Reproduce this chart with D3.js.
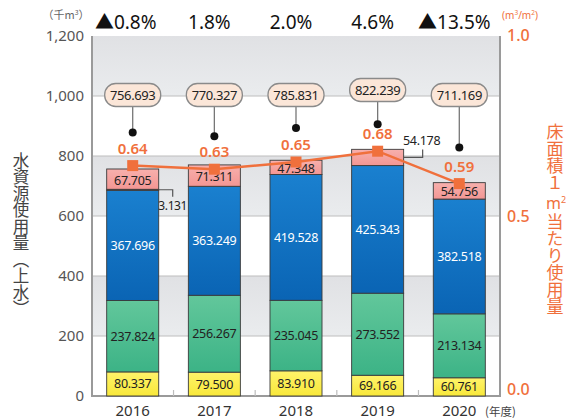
<!DOCTYPE html>
<html><head><meta charset="utf-8">
<script src="https://cdn.jsdelivr.net/npm/d3@7"></script>
<style>
body{margin:0;background:#fff;}
svg{display:block;font-family:"Noto Sans","Noto Sans CJK JP",sans-serif;}
</style></head>
<body><svg id="c" width="566" height="419"></svg>
<script>
const years = ["2016","2017","2018","2019","2020"];
const yellowVals = [80.337, 79.500, 83.910, 69.166, 60.761];
const greenVals  = [237.824, 256.267, 235.045, 273.552, 213.134];
const blueVals   = [367.696, 363.249, 419.528, 425.343, 382.518];
const brownVals  = [3.131, 0, 0, 0, 0];
const pinkVals   = [67.705, 71.311, 47.348, 54.178, 54.756];
const totals     = [756.693, 770.327, 785.831, 822.239, 711.169];
const perArea    = [0.64, 0.63, 0.65, 0.68, 0.59];
const changeLabels = ["▲0.8%", "1.8%", "2.0%", "4.6%", "▲13.5%"];
const leftTicks  = [0, 200, 400, 600, 800, 1000, 1200];
const rightTicks = [0.0, 0.5, 1.0];

const svg = d3.select("#c");
const L = 92, R = 500, T = 36, B = 396;
const x = d3.scaleBand().domain(years).range([L, R]).paddingInner(0.363).paddingOuter(0.18);
const yL = d3.scaleLinear().domain([0, 1200]).range([B, T]);
const yR = d3.scaleLinear().domain([0, 1]).range([B, T]);
const orange = "#f0703c";

const defs = svg.append("defs");
function grad(id, c1, c2) {
  const g = defs.append("linearGradient").attr("id", id).attr("x1", 0).attr("y1", 0).attr("x2", 0).attr("y2", 1);
  g.append("stop").attr("offset", "0%").attr("stop-color", c1);
  g.append("stop").attr("offset", "100%").attr("stop-color", c2);
}
grad("gBlue", "#1a80cf", "#0a64b4");
grad("gGreen", "#62c79b", "#3cb386");
grad("gYellow", "#fff36a", "#f8e83a");
grad("gPink", "#f7b0ad", "#f39693");
grad("gBand", "#e0e1e4", "#eaecee");

// background bands
const bands = [[1000,1200],[600,800],[200,400]];
svg.append("g").selectAll("rect").data(bands).join("rect")
  .attr("x", L).attr("width", R - L)
  .attr("y", d => yL(d[1])).attr("height", d => yL(d[0]) - yL(d[1]))
  .attr("fill", "url(#gBand)");

// gridlines
svg.append("g").selectAll("line").data(leftTicks.slice(1, -1)).join("line")
  .attr("x1", L).attr("x2", R).attr("y1", d => yL(d)).attr("y2", d => yL(d))
  .attr("stroke", "#bdbdbd").attr("stroke-width", 1.2);

// axes frame
svg.append("line").attr("x1", L).attr("x2", L).attr("y1", T).attr("y2", B).attr("stroke", "#9a9a9a").attr("stroke-width", 2);
svg.append("line").attr("x1", R).attr("x2", R).attr("y1", T).attr("y2", B).attr("stroke", "#9a9a9a").attr("stroke-width", 2);
svg.append("line").attr("x1", L - 1).attr("x2", R + 1).attr("y1", B).attr("y2", B).attr("stroke", "#9a9a9a").attr("stroke-width", 2);

// bottom tick marks between bands
const step = x.step();
svg.append("g").selectAll("line").data(years.slice(1)).join("line")
  .attr("x1", d => x(d) - (step - x.bandwidth()) / 2).attr("x2", d => x(d) - (step - x.bandwidth()) / 2)
  .attr("y1", B).attr("y2", B - 6).attr("stroke", "#bdbdbd").attr("stroke-width", 1.2);

// left ticks
svg.append("g").selectAll("text").data(leftTicks).join("text")
  .attr("x", 84).attr("y", d => yL(d)).attr("dy", "0.36em").attr("text-anchor", "end")
  .attr("font-size", 15).attr("fill", "#555").text(d => d3.format(",")(d));
svg.append("text").attr("x", 66).attr("y", 19).attr("text-anchor", "middle")
  .attr("font-size", 11).attr("fill", "#666").attr("font-family", "Noto Sans CJK JP")
  .html("（千m<tspan dy='-4' font-size='7'>3</tspan><tspan dy='4'>）</tspan>");

// right ticks
svg.append("g").selectAll("text").data(rightTicks).join("text")
  .attr("x", 507).attr("y", d => yR(d) - (d === 0 ? 7 : (d === 1 ? 1 : 0))).attr("dy", "0.36em").attr("text-anchor", "start")
  .attr("font-size", 16).attr("font-weight", 500).attr("fill", orange).text(d => d3.format(".1f")(d));
svg.append("text").attr("x", 520).attr("y", 19).attr("text-anchor", "middle")
  .attr("font-size", 10).attr("fill", orange)
  .html("(m<tspan dy='-4' font-size='6.5'>3</tspan><tspan dy='4'>/m</tspan><tspan dy='-4' font-size='6.5'>2</tspan><tspan dy='4'>)</tspan>");

// axis titles (vertical)
svg.append("text").attr("x", 21).attr("y", 152)
  .attr("font-size", 16.5).attr("fill", "#444").attr("font-family", "Noto Sans CJK JP")
  .style("writing-mode", "vertical-rl")
  .text("水資源使用量（上水）");
svg.append("text").attr("x", 555).attr("y", 123)
  .attr("font-size", 17).attr("fill", orange).attr("font-family", "Noto Sans CJK JP")
  .style("writing-mode", "vertical-rl").style("text-orientation", "upright")
  .text("床面積１");
svg.append("text").attr("x", 556).attr("y", 209).attr("text-anchor", "middle")
  .attr("font-size", 16).attr("fill", orange)
  .html("m<tspan dy='-6' font-size='9'>2</tspan>");
svg.append("text").attr("x", 555).attr("y", 213)
  .attr("font-size", 17).attr("fill", orange).attr("font-family", "Noto Sans CJK JP")
  .style("writing-mode", "vertical-rl").style("text-orientation", "upright")
  .text("当たり使用量");

// x labels
svg.append("g").selectAll("text").data(years).join("text")
  .attr("x", d => x(d) + x.bandwidth() / 2).attr("y", 416).attr("text-anchor", "middle")
  .attr("font-size", 15).attr("fill", "#333").text(d => d);
svg.append("text").attr("x", 485).attr("y", 416).attr("font-size", 11.5).attr("fill", "#444")
  .attr("font-family", "Noto Sans CJK JP").text("(年度)");

// stacked bars
const seriesDefs = [
  {vals: yellowVals, fill: "url(#gYellow)", tc: "#222"},
  {vals: greenVals, fill: "url(#gGreen)", tc: "#222"},
  {vals: blueVals, fill: "url(#gBlue)", tc: "#fff"},
  {vals: brownVals, fill: "#8a4a22", tc: null},
  {vals: pinkVals, fill: "url(#gPink)", tc: "#222"}
];
const segs = [];
years.forEach((yr, i) => {
  let base = 0;
  seriesDefs.forEach((s, k) => {
    const v = s.vals[i];
    segs.push({yr, i, k, y0: base, y1: base + v, v, fill: s.fill, tc: s.tc});
    base += v;
  });
});
const gBars = svg.append("g");
gBars.selectAll("rect").data(segs.filter(d => d.v > 0)).join("rect")
  .attr("x", d => x(d.yr)).attr("width", x.bandwidth())
  .attr("y", d => yL(d.y1)).attr("height", d => yL(d.y0) - yL(d.y1))
  .attr("fill", d => d.fill).attr("stroke", "#3a3a3a").attr("stroke-width", 0.9);

const inLabels = segs.filter(d => d.v > 0 && d.tc && !(d.i === 3 && d.k === 4));
gBars.selectAll("text").data(inLabels).join("text")
  .attr("x", d => x(d.yr) + x.bandwidth() / 2)
  .attr("y", d => (yL(d.y0) + yL(d.y1)) / 2 + (d.k === 4 ? 1 : 0)).attr("dy", "0.36em")
  .attr("text-anchor", "middle").attr("font-size", 12.5).attr("letter-spacing", -0.3)
  .attr("fill", d => d.tc).text(d => d3.format(".3f")(d.v));

// outside labels: brown 2016 and pink 2019
const bw = x.bandwidth();
{
  const d = segs.find(s => s.i === 0 && s.k === 3);
  const ym = yL((d.y0 + d.y1) / 2);
  const xr = x(d.yr) + bw;
  svg.append("path").attr("d", `M${xr},${ym}H${xr + 14}V${ym + 7}`).attr("fill", "none").attr("stroke", "#555").attr("stroke-width", 1.2);
  svg.append("text").attr("x", xr + 14).attr("y", ym + 20).attr("text-anchor", "middle")
    .attr("font-size", 12).attr("letter-spacing", -0.4).attr("fill", "#222").text(d3.format(".3f")(d.v));
}
{
  const d = segs.find(s => s.i === 3 && s.k === 4);
  const ym = yL((d.y0 + d.y1) / 2);
  const xr = x(d.yr) + bw;
  svg.append("path").attr("d", `M${xr},${ym}H${xr + 19}V${ym - 8}`).attr("fill", "none").attr("stroke", "#555").attr("stroke-width", 1.2);
  svg.append("text").attr("x", xr + 18).attr("y", ym - 12).attr("text-anchor", "middle")
    .attr("font-size", 12.5).attr("letter-spacing", -0.3).attr("fill", "#222").text(d3.format(".3f")(d.v));
}

// per-area line
const cx = d => x(d) + bw / 2;
const pts = years.map((yr, i) => ({yr, v: perArea[i]}));
svg.append("path").datum(pts)
  .attr("d", d3.line().x(d => cx(d.yr)).y(d => yR(d.v)))
  .attr("fill", "none").attr("stroke", orange).attr("stroke-width", 2.5);
svg.append("g").selectAll("rect").data(pts).join("rect")
  .attr("x", d => cx(d.yr) - 5.5).attr("y", d => yR(d.v) - 5.5).attr("width", 11).attr("height", 11)
  .attr("fill", orange);
svg.append("g").selectAll("text").data(pts).join("text")
  .attr("x", d => cx(d.yr)).attr("y", d => yR(d.v) - 12).attr("text-anchor", "middle")
  .attr("font-size", 15).attr("font-weight", 600).attr("fill", orange).text(d => d3.format(".2f")(d.v));

// total callouts
const bubbleY = [95, 95, 95, 90, 95];
const dotOff = [33, 33, 34, 27, 36];
const gC = svg.append("g");
years.forEach((yr, i) => {
  const c = cx(yr), by = bubbleY[i], dy = yR(perArea[i]) - dotOff[i];
  gC.append("line").attr("x1", c).attr("x2", c).attr("y1", by).attr("y2", dy).attr("stroke", "#777").attr("stroke-width", 1.3);
  gC.append("circle").attr("cx", c).attr("cy", dy).attr("r", 4).attr("fill", "#111");
  gC.append("rect").attr("x", c - 28).attr("y", by - 11.5).attr("width", 56).attr("height", 23).attr("rx", 11)
    .attr("fill", "#fbe6d8").attr("stroke", "#8a8a8a").attr("stroke-width", 1.3);
  gC.append("text").attr("x", c).attr("y", by).attr("dy", "0.36em").attr("text-anchor", "middle")
    .attr("font-size", 13).attr("letter-spacing", -0.4).attr("fill", "#222").text(d3.format(".3f")(totals[i]));
});

// change labels at top
svg.append("g").selectAll("text").data(changeLabels).join("text")
  .attr("x", (d, i) => cx(years[i]) - 5 + (i === 0 ? -2 : 0))
  .attr("y", 29).attr("text-anchor", "middle")
  .attr("font-size", 19).attr("fill", "#111").text(d => d);
</script></body></html>
